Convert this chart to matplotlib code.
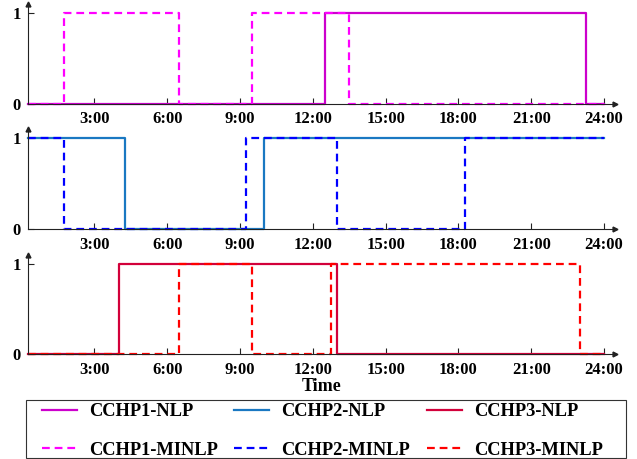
import matplotlib
matplotlib.use("Agg")
import matplotlib.pyplot as plt
from matplotlib.patches import Rectangle

plt.rcParams['font.family'] = ['Liberation Serif', 'DejaVu Serif']
plt.rcParams['font.weight'] = 'bold'

# switching times (hours) and on/off states, steps-post
t1_nlp = [0.25, 12.5, 23.25, 24.0]
s1_nlp = [0, 1, 0, 0]
t1_minlp = [0.25, 1.75, 6.5, 9.5, 13.5, 24.0]
s1_minlp = [0, 1, 0, 1, 0, 0]

t2_nlp = [0.25, 4.25, 10.0, 24.0]
s2_nlp = [1, 0, 1, 1]
t2_minlp = [0.25, 1.75, 9.25, 13.0, 18.25, 24.0]
s2_minlp = [1, 0, 1, 0, 1, 1]

t3_nlp = [0.25, 4.0, 13.0, 24.0]
s3_nlp = [0, 1, 0, 0]
t3_minlp = [0.25, 6.5, 9.5, 12.75, 23.0, 24.0]
s3_minlp = [0, 1, 0, 1, 0, 0]

xticks = [3, 6, 9, 12, 15, 18, 21, 24]
xticklabels = ['3:00', '6:00', '9:00', '12:00', '15:00', '18:00', '21:00', '24:00']

series = [
    (t1_nlp, s1_nlp, t1_minlp, s1_minlp, '#CC00CC', '#FF00FF', 'CCHP1'),
    (t2_nlp, s2_nlp, t2_minlp, s2_minlp, '#1A78C2', '#0000FF', 'CCHP2'),
    (t3_nlp, s3_nlp, t3_minlp, s3_minlp, '#D2003A', '#FF0000', 'CCHP3'),
]

W, H = 637, 459
fig = plt.figure(figsize=(W / 100, H / 100), dpi=100)

left = 27.7 / W
width = (615 - 27.7) / W
zero_px = [103.7, 229.0, 354.3]
height = 99.7 / H
axc = '#222222'

handles = []
labels = []
for (tn, sn, tm, sm, cn, cm, name), y0 in zip(series, zero_px):
    ax = fig.add_axes([left, 1 - y0 / H, width, height])
    ln, = ax.plot(tn, sn, drawstyle='steps-post', color=cn, lw=1.6, clip_on=False)
    lm, = ax.plot(tm, sm, drawstyle='steps-post', color=cm, lw=1.6,
                  dashes=(3.5, 2.2), clip_on=False)
    handles += [ln, lm]
    labels += [name + '-NLP', name + '-MINLP']
    ax.set_xlim(0.25, 24.45)
    ax.set_ylim(0, 1.1)
    for s in ['top', 'right']:
        ax.spines[s].set_visible(False)
    for s in ['left', 'bottom']:
        ax.spines[s].set_color(axc)
        ax.spines[s].set_linewidth(0.8)
    ax.set_xticks(xticks)
    ax.set_xticklabels(xticklabels)
    ax.set_yticks([0, 1])
    ax.tick_params(direction='in', length=4, width=0.8, color=axc,
                   labelsize=12, pad=5.5)
    ax.tick_params(axis='y', pad=5.0)
    ax.plot(1, 0, '>', transform=ax.transAxes, clip_on=False, ms=3.5, color=axc)
    ax.plot(0, 1, '^', transform=ax.transAxes, clip_on=False, ms=3.5, color=axc)
    last = ax

last.set_xlabel('Time', fontsize=13, fontweight='bold', labelpad=0)

fig.legend(handles, labels, ncol=3, loc='upper left',
           bbox_to_anchor=(41.5 / W, 1 - 403.5 / H),
           borderaxespad=0, frameon=False, borderpad=0,
           prop={'size': 13.3, 'weight': 'bold'},
           handlelength=1.9, handletextpad=0.66, labelspacing=1.15,
           columnspacing=0.9)

fig.patches.append(Rectangle((26 / W, 1 - 457.5 / H), 600 / W, 57.5 / H,
                             transform=fig.transFigure, fill=False,
                             edgecolor='#333333', lw=0.8))

fig.savefig('out.png', dpi=100)
